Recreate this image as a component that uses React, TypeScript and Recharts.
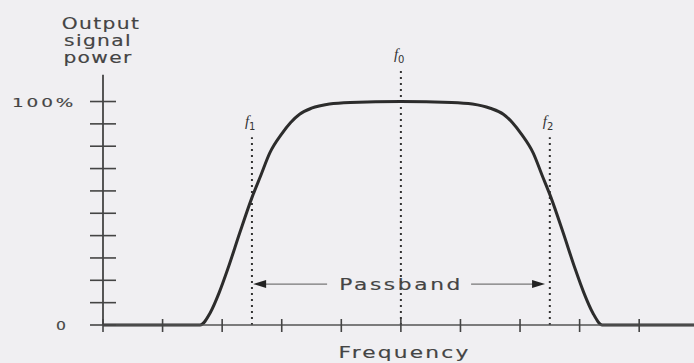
import React from 'react';
import { LineChart, Line, XAxis, YAxis, ReferenceLine } from 'recharts';

// frequency in tick units, output power in percent
const frequency = [
  0, 1, 1.63, 1.8, 1.95, 2.1, 2.3, 2.5, 2.65, 2.8, 3.0, 3.15, 3.3, 3.5, 3.8, 4.15, 5,
  5.85, 6.2, 6.5, 6.72, 6.87, 7.02, 7.22, 7.37, 7.52, 7.72, 7.92, 8.07, 8.22, 8.38, 9, 9.92,
];
const power = [
  0, 0, 0, 5.5, 14.5, 25.5, 41.6, 57, 67, 77, 85.5, 90.6, 94.3, 97, 98.9, 99.6, 100,
  99.6, 98.9, 97, 94.3, 90.6, 85.5, 77, 67, 57, 41.6, 25.5, 14.5, 5.5, 0, 0, 0,
];

const freqTicks = [0, 1, 2, 3, 4, 5, 6, 7, 8, 9];
const powerTicks = [0, 10, 20, 30, 40, 50, 60, 70, 80, 90, 100];

// marker frequencies and how high their dotted guides reach
const markerNames = ['1', '0', '2'];
const markerFreqs = [2.5, 5, 7.5];
const markerTops = [84, 114, 84];

// passband arrow: level and the two arrow tips
const passbandLevel = 18.3;
const passbandFrom = 2.52;
const passbandTo = 7.42;

const data = frequency.map((f, i) => ({ f, p: power[i] }));

const INK = '#333';
const TEXT = '#444';
const FONT = '"DejaVu Sans", Verdana, sans-serif';

// the lettering is wide, so stretch it horizontally
function WideText(props: any) {
  const { x, y, anchor = 'middle', size = 15, spacing = 1.5, stretch = 1.42, children } = props;
  return (
    <text
      transform={`translate(${x},${y}) scale(${stretch},1)`}
      textAnchor={anchor}
      fontSize={size}
      letterSpacing={spacing}
      fill={TEXT}
      stroke={TEXT}
      strokeWidth={0.15}
      fontFamily={FONT}
    >
      {children}
    </text>
  );
}

function YTick(props: any) {
  const { x, y, payload } = props;
  let label = null;
  if (payload.value === 100) {
    label = (
      <WideText x={12} y={y + 5} anchor="start" size={13} spacing={2}>
        100%
      </WideText>
    );
  } else if (payload.value === 0) {
    label = (
      <WideText x={x - 42} y={y + 5} size={13} spacing={0} stretch={1.2}>
        0
      </WideText>
    );
  }
  return (
    <g>
      <line x1={x - 13} x2={x + 13} y1={y} y2={y} stroke="#444" strokeWidth={1.6} />
      {label}
    </g>
  );
}

function XTick(props: any) {
  const { x, y } = props;
  return <line x1={x} x2={x} y1={y - 6} y2={y + 7} stroke="#444" strokeWidth={1.6} />;
}

function PowerTitle(props: any) {
  const { viewBox } = props;
  const cx = viewBox.x + viewBox.width;
  const lines = ['Output', 'signal', 'power'];
  const shifts = [-2, -5, -5];
  const baselines = [29, 46, 63];
  return (
    <g>
      {lines.map((t, i) => (
        <WideText key={t} x={cx + shifts[i]} y={baselines[i]} spacing={1} stretch={1.35}>
          {t}
        </WideText>
      ))}
    </g>
  );
}

function FreqTitle(props: any) {
  const { viewBox } = props;
  return (
    <WideText x={viewBox.x + viewBox.width / 2 + 6} y={viewBox.y + 33} spacing={1.5} stretch={1.45}>
      Frequency
    </WideText>
  );
}

function MarkerLabel(props: any) {
  const { viewBox, sub } = props;
  return (
    <text x={viewBox.x - 7} y={viewBox.y - 11} fill="#333" fontFamily='"Liberation Serif", serif' fontStyle="italic" fontSize={15}>
      f
      <tspan fontSize={10} dy={4} fontStyle="normal" fontFamily={FONT}>
        {sub}
      </tspan>
    </text>
  );
}

function PassbandArrow(props: any) {
  const { x1, x2, y1 } = props;
  const mid = (x1 + x2) / 2;
  const gap = 72;
  const y = y1;
  return (
    <g>
      <line x1={x1 + 8} x2={mid - gap} y1={y} y2={y} stroke="#777" strokeWidth={1.2} />
      <line x1={mid + gap} x2={x2 - 8} y1={y} y2={y} stroke="#777" strokeWidth={1.2} />
      <polygon points={`${x1},${y} ${x1 + 13},${y - 4} ${x1 + 13},${y + 4}`} fill="#222" />
      <polygon points={`${x2},${y} ${x2 - 13},${y - 4} ${x2 - 13},${y + 4}`} fill="#222" />
      <WideText x={mid + 2} y={y + 6} spacing={1.8} stretch={1.45}>
        Passband
      </WideText>
    </g>
  );
}

export default function App() {
  return (
    <div style={{ position: 'absolute', left: 0, top: 0, width: 694, height: 363, background: '#f0eff2' }}>
      <LineChart width={694} height={363} data={data} margin={{ top: 68, right: 0, bottom: 0, left: 0 }}>
        <XAxis
          dataKey="f"
          type="number"
          domain={[0, 9.92]}
          ticks={freqTicks}
          interval={0}
          height={38}
          tickSize={0}
          tickMargin={0}
          tickLine={false}
          tick={<XTick />}
          axisLine={{ stroke: '#555', strokeWidth: 1.6 }}
          label={{ content: <FreqTitle /> }}
        />
        <YAxis
          type="number"
          domain={[0, 115]}
          ticks={powerTicks}
          interval={0}
          width={103}
          tickSize={0}
          tickMargin={0}
          tickLine={false}
          tick={<YTick />}
          axisLine={false}
          label={{ content: <PowerTitle /> }}
        />
        <ReferenceLine
          segment={[{ x: 0, y: 0 }, { x: 0, y: 112 }]}
          stroke="#444"
          strokeWidth={1.8}
          ifOverflow="visible"
        />
        {markerFreqs.map((fx, i) => (
          <ReferenceLine
            key={markerNames[i]}
            segment={[{ x: fx, y: 0 }, { x: fx, y: markerTops[i] }]}
            stroke={INK}
            strokeWidth={2}
            strokeDasharray="2 4"
            ifOverflow="visible"
            label={<MarkerLabel sub={markerNames[i]} />}
          />
        ))}
        <ReferenceLine
          segment={[{ x: passbandFrom, y: passbandLevel }, { x: passbandTo, y: passbandLevel }]}
          ifOverflow="visible"
          shape={(p: any) => <PassbandArrow {...p} />}
        />
        <Line
          type="monotone"
          dataKey="p"
          stroke="#2c2c2c"
          strokeWidth={3}
          dot={false}
          isAnimationActive={false}
        />
      </LineChart>
    </div>
  );
}
